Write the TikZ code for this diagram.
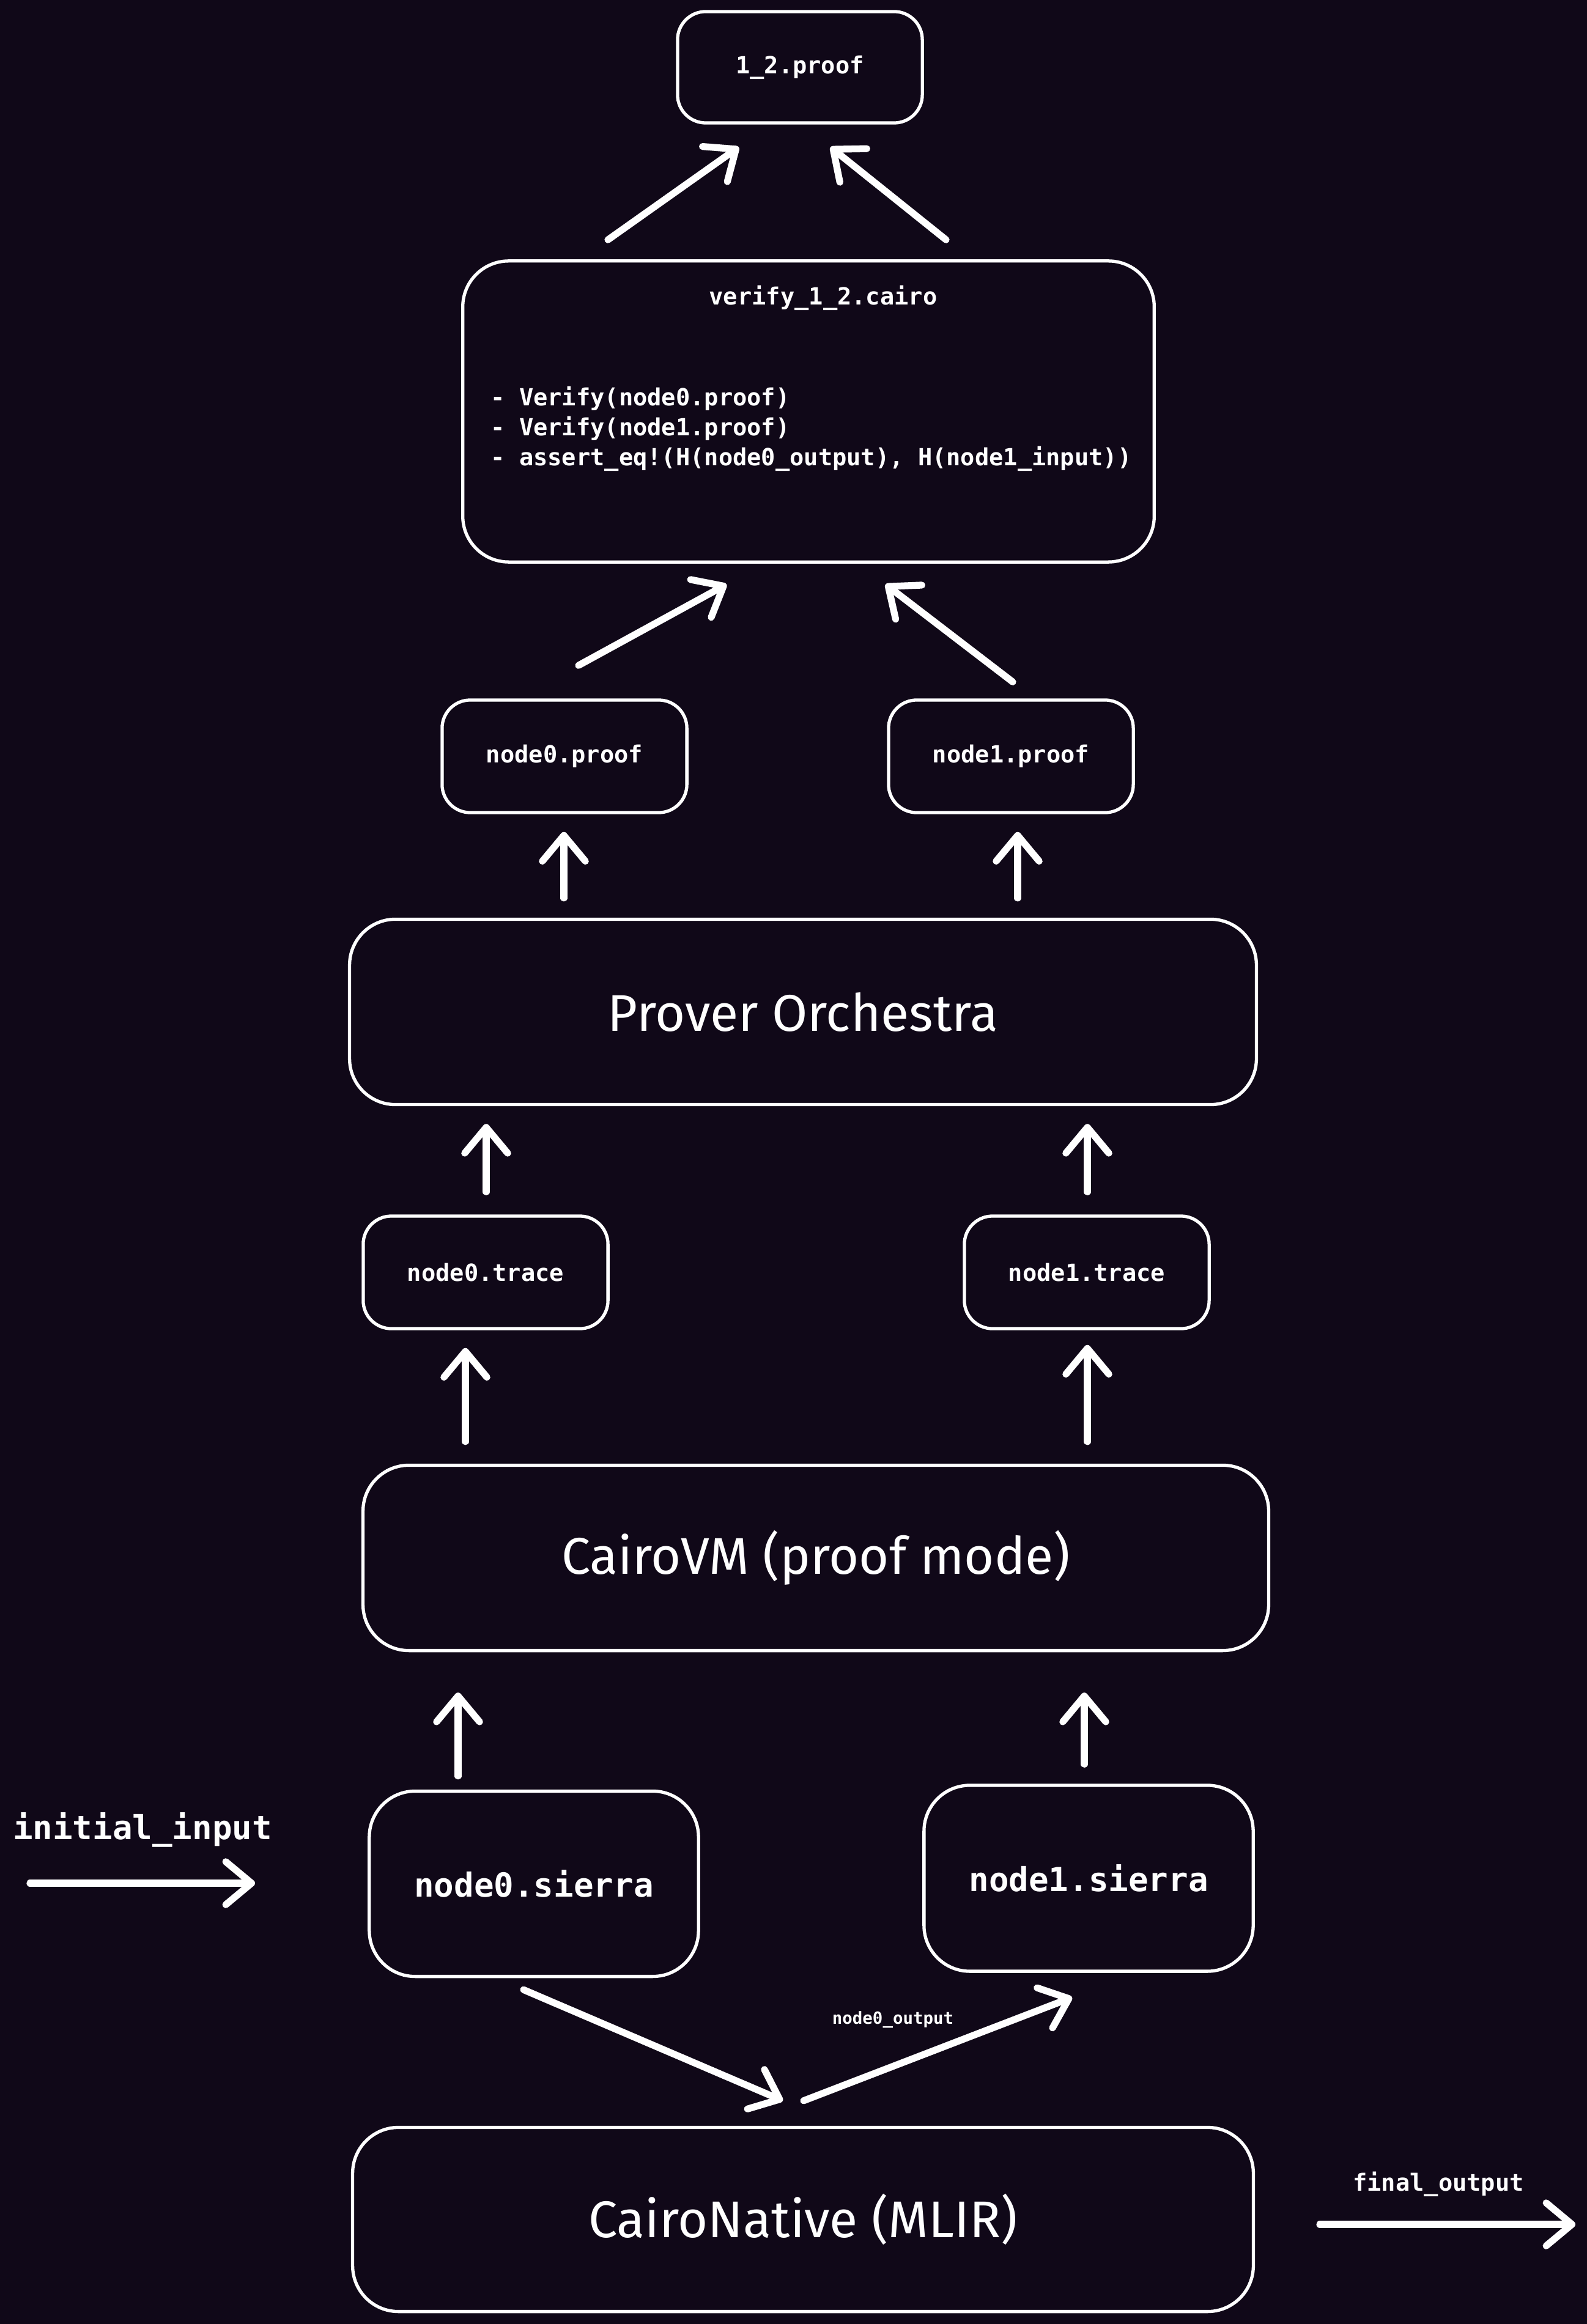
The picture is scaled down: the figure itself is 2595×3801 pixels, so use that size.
\documentclass[tikz,border=0pt]{standalone}
\usepackage{fontspec}
\setmainfont{Fira Sans}
\setmonofont{DejaVu Sans Mono}
\usepackage{tikz}
\usetikzlibrary{arrows.meta}
\definecolor{bgdark}{RGB}{16,8,24}
\newcommand{\handtxt}{\fontsize{24}{28}\selectfont}
\newcommand{\monosmall}{\ttfamily\bfseries\fontsize{11}{13.9}\selectfont}
\newcommand{\monobig}{\ttfamily\bfseries\fontsize{15.4}{18}\selectfont}
\newcommand{\monotiny}{\ttfamily\bfseries\fontsize{7.8}{9}\selectfont}

\begin{document}
\begin{tikzpicture}
  [x=0.01cm,y=-0.01cm,
   every node/.style={text=white},
   box/.style={draw=white,line width=1.5pt,rounded corners=0.46cm,inner sep=0pt,font=\monosmall},
   bigbox/.style={box,rounded corners=0.75cm,font=\handtxt},
   arr/.style={draw=white,line width=3.2pt,line cap=round,-{Straight Barb[length=12pt,width=20pt,round]}}]
  \fill[bgdark] (0,0) rectangle (2595,3801);
  \useasboundingbox (0,0) rectangle (2595,3801);

  \node[box,minimum width=4cm,minimum height=1.82cm] (proof12) at (1308,110) {1\_2.proof};
  \node[box,minimum width=11.3cm,minimum height=4.92cm,rounded corners=0.75cm] (verify) at (1322,673) {};
  \node[font=\monosmall] (vtitle) at (1346,487) {verify\_1\_2.cairo};
  \node[font=\monosmall,anchor=west,align=left] (vbody) at (790,701)
    {- Verify(node0.proof)\\- Verify(node1.proof)\\- assert\_eq!(H(node0\_output), H(node1\_input))};

  \node[box,minimum width=4cm,minimum height=1.84cm] (n0proof) at (923,1237) {node0.proof};
  \node[box,minimum width=4cm,minimum height=1.84cm] (n1proof) at (1653,1237) {node1.proof};
  \node[bigbox,minimum width=14.82cm,minimum height=3.03cm] (prover) at (1313,1655) {Prover Orchestra};
  \node[box,minimum width=4cm,minimum height=1.84cm] (n0trace) at (794,2081) {node0.trace};
  \node[box,minimum width=4cm,minimum height=1.84cm] (n1trace) at (1777,2081) {node1.trace};
  \node[bigbox,minimum width=14.8cm,minimum height=3.03cm] (cairovm) at (1334,2548) {CairoVM (proof mode)};
  \node[box,font=\monobig,rounded corners=0.75cm,minimum width=5.38cm,minimum height=3.03cm] (n0sierra) at (873,3081) {node0.sierra};
  \node[box,font=\monobig,rounded corners=0.75cm,minimum width=5.38cm,minimum height=3.04cm] (n1sierra) at (1780,3072) {node1.sierra};
  \node[bigbox,minimum width=14.72cm,minimum height=3.01cm] (native) at (1313,3630) {CairoNative (MLIR)};

  \node[font=\monobig] (initlbl) at (233,2993) {initial\_input};
  \node[font=\monosmall] (finallbl) at (2352,3572) {final\_output};
  \node[font=\monotiny] (outlbl) at (1460,3303) {node0\_output};
  \coordinate (in0) at (49,3080);
  \coordinate (in1) at (417,3080);
  \coordinate (out0) at (2158,3638);
  \coordinate (out1) at (2576,3638);

  \draw[arr] ([shift={(-328,-32)}]verify.north) -- ([shift={(-100,37)}]proof12.south);
  \draw[arr] ([shift={(225,-32)}]verify.north) -- ([shift={(50,37)}]proof12.south);
  \draw[arr] ([shift={(23,-54)}]n0proof.north) -- ([shift={(-134,34)}]verify.south);
  \draw[arr] ([shift={(3,-27)}]n1proof.north) -- ([shift={(126,34)}]verify.south);
  \draw[arr] ([shift={(-391,-32)}]prover.north) -- ([shift={(-1,29)}]n0proof.south);
  \draw[arr] ([shift={(351,-32)}]prover.north) -- ([shift={(11,29)}]n1proof.south);
  \draw[arr] ([shift={(1,-37)}]n0trace.north) -- ([shift={(-518,29)}]prover.south);
  \draw[arr] ([shift={(1,-37)}]n1trace.north) -- ([shift={(465,29)}]prover.south);
  \draw[arr] ([shift={(-573,-36)}]cairovm.north) -- ([shift={(-33,29)}]n0trace.south);
  \draw[arr] ([shift={(444,-36)}]cairovm.north) -- ([shift={(1,24)}]n1trace.south);
  \draw[arr] ([shift={(-124,-22)}]n0sierra.north) -- ([shift={(-585,66)}]cairovm.south);
  \draw[arr] ([shift={(-7,-32)}]n1sierra.north) -- ([shift={(439,66)}]cairovm.south);
  \draw[arr] ([shift={(-17,19)}]n0sierra.south) -- ([shift={(-33,-41)}]native.north);
  \draw[arr] ([shift={(1,-41)}]native.north) -- ([shift={(-27,40)}]n1sierra.south);
  \draw[arr] (in0) -- (in1);
  \draw[arr] (out0) -- (out1);

\end{tikzpicture}
\end{document}
